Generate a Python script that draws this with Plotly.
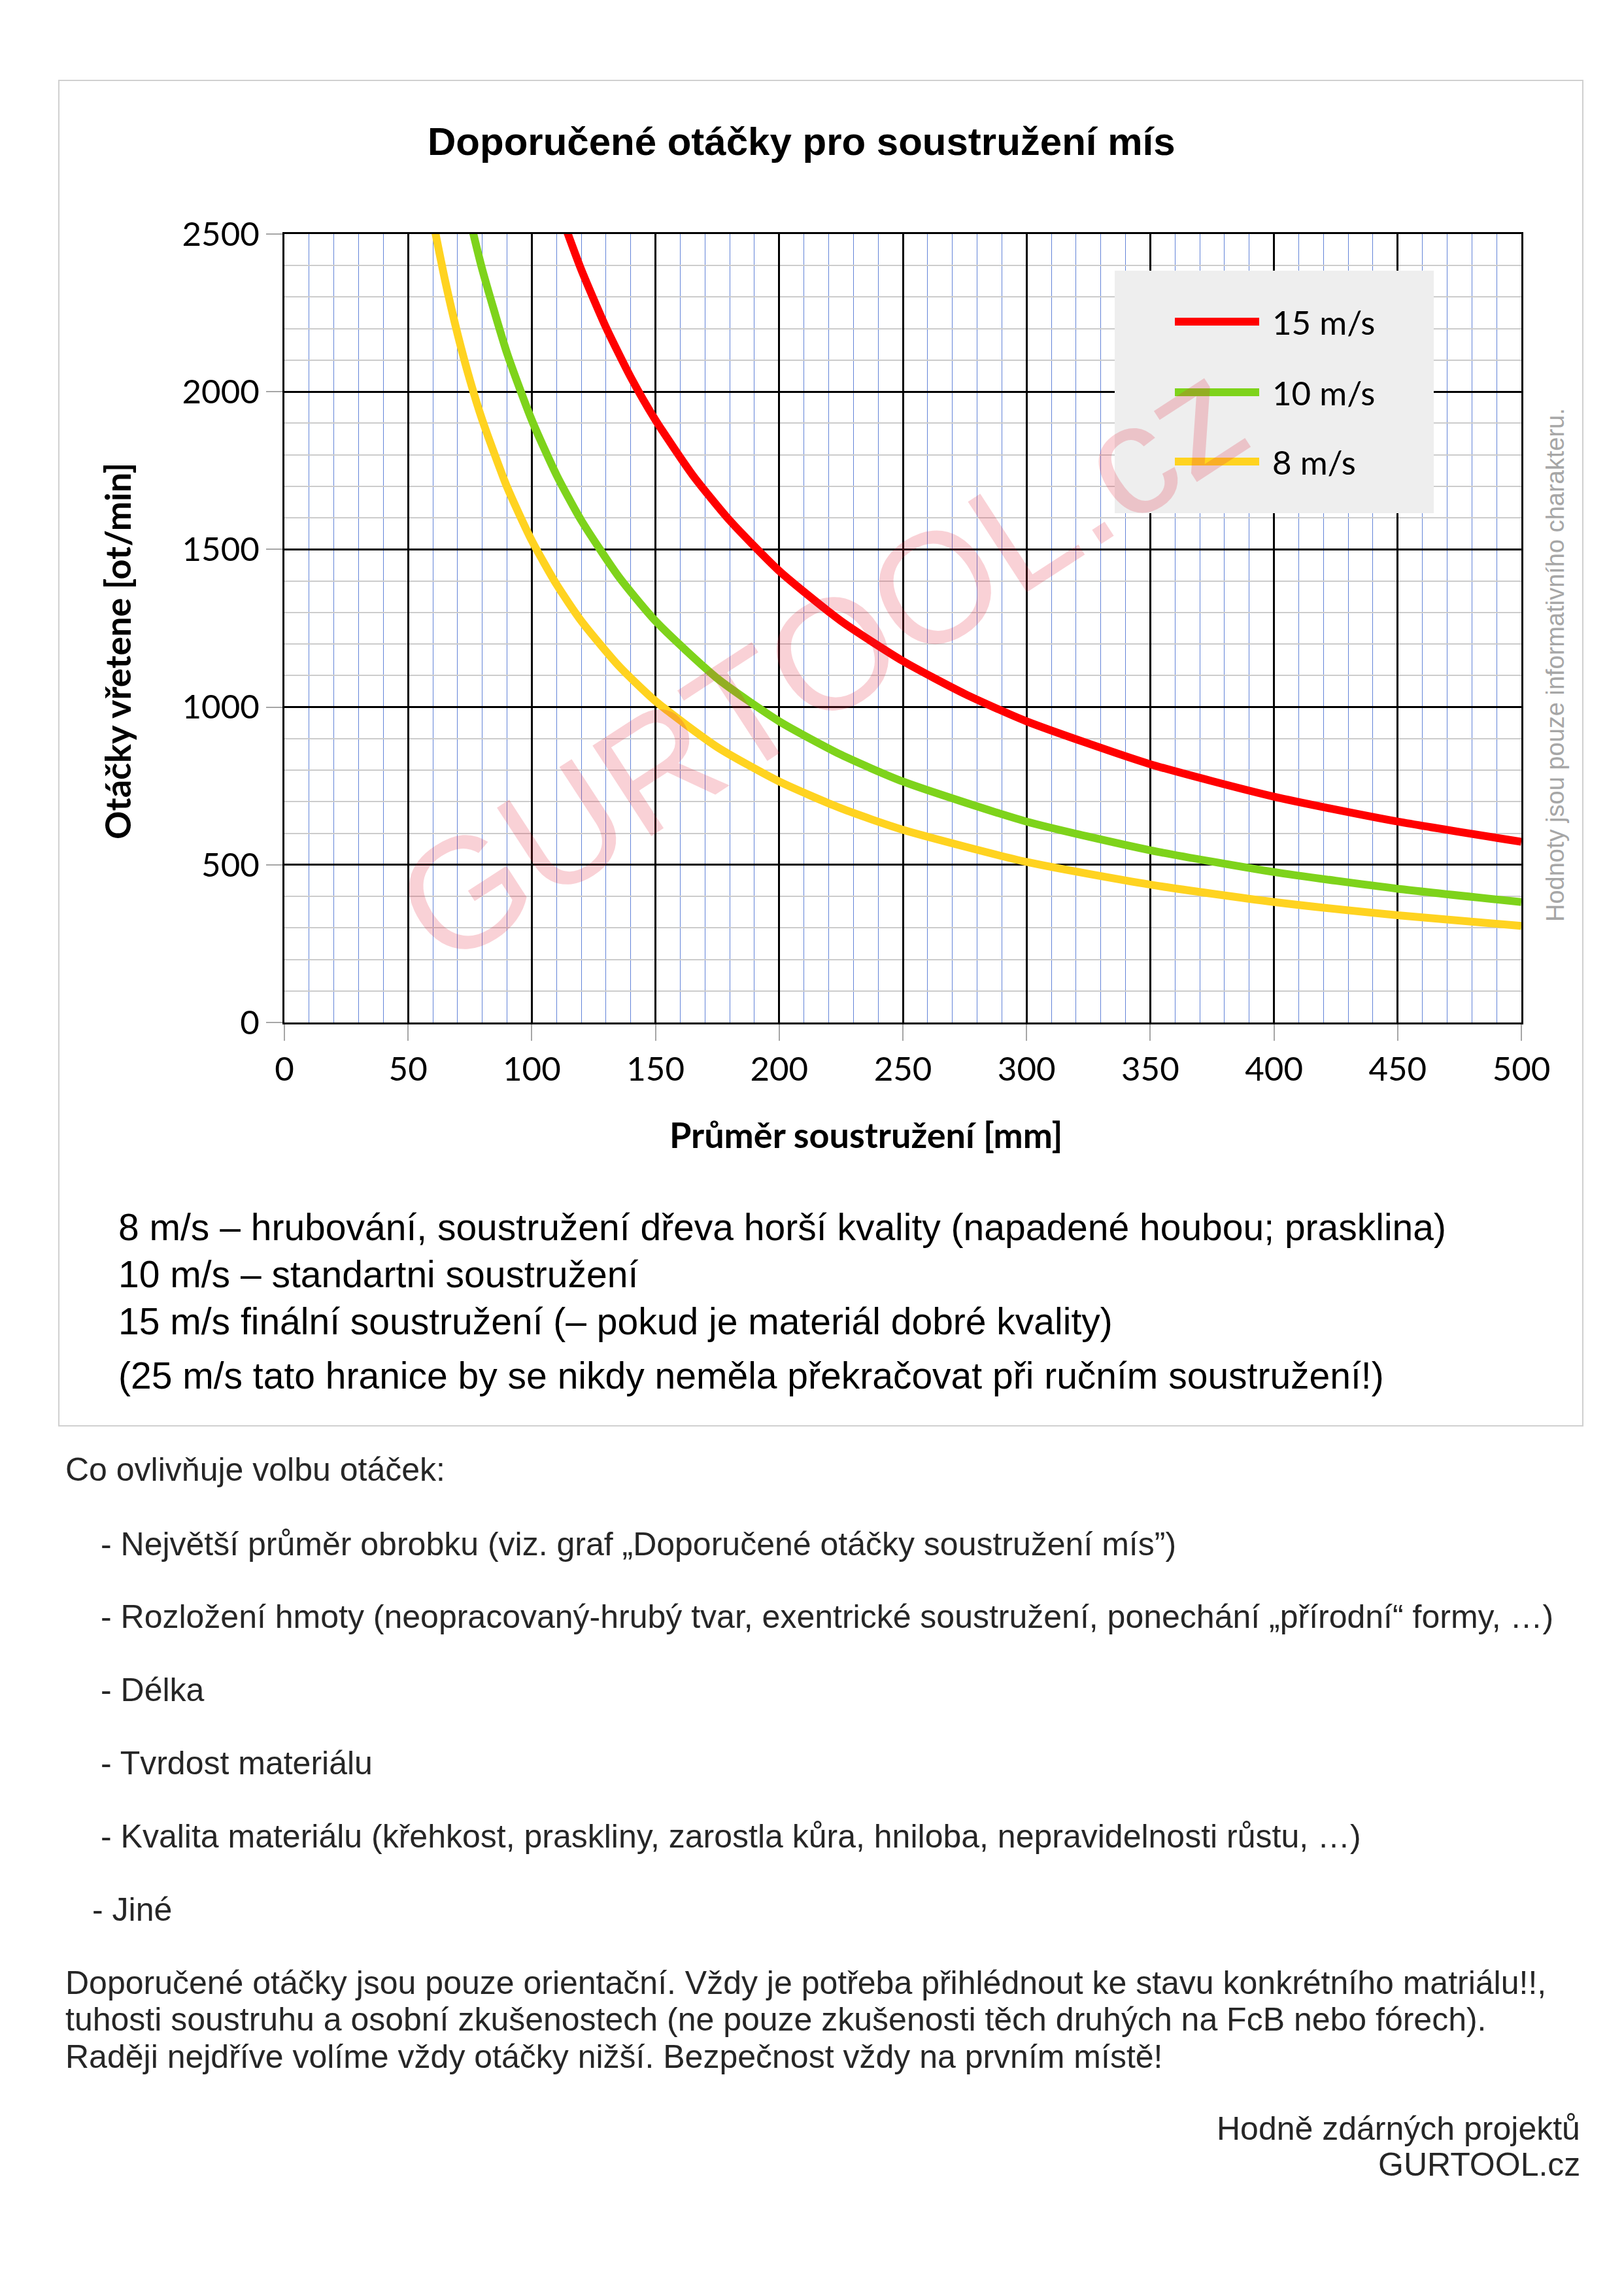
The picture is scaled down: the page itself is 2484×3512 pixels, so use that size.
import plotly.graph_objects as go

# ---------------- data ----------------
series_names = ["15 m/s", "10 m/s", "8 m/s"]
series_colors = ["#FF0000", "#7ED31B", "#FFD320"]

d_15 = [114, 120, 130, 140, 150, 165, 180, 200, 225, 250, 275, 300, 350, 400, 450, 500]
n_15 = [2513, 2387, 2204, 2046, 1910, 1736, 1592, 1432, 1273, 1146, 1042, 955, 819, 716, 637, 573]

d_10 = [76, 80, 90, 100, 110, 120, 135, 150, 175, 200, 225, 250, 300, 350, 400, 450, 500]
n_10 = [2513, 2387, 2122, 1910, 1736, 1592, 1415, 1273, 1091, 955, 849, 764, 637, 546, 477, 424, 382]

d_8 = [61, 65, 70, 75, 80, 90, 100, 110, 120, 135, 150, 175, 200, 225, 250, 300, 350, 400, 450, 500]
n_8 = [2505, 2351, 2183, 2037, 1910, 1698, 1528, 1389, 1273, 1132, 1019, 873, 764, 679, 611, 509, 437, 382, 340, 306]

x_ticks = [0, 50, 100, 150, 200, 250, 300, 350, 400, 450, 500]
y_ticks = [0, 500, 1000, 1500, 2000, 2500]

title_text = "Doporučené otáčky pro soustružení mís"
x_title = "Průměr soustružení [mm]"
y_title = "Otáčky vřetene [ot/min]"
side_note = "Hodnoty jsou pouze informativního charakteru."
watermark = "GURTOOL.cz"

box_lines = [
    "8 m/s – hrubování, soustružení dřeva horší kvality (napadené houbou; prasklina)",
    "10 m/s – standartni soustružení",
    "15 m/s finální soustružení (– pokud je materiál dobré kvality)",
    "(25 m/s tato hranice by se nikdy neměla překračovat při ručním soustružení!)",
]
heading = "Co ovlivňuje volbu otáček:"
bullets = [
    "- Největší průměr obrobku (viz. graf „Doporučené otáčky soustružení mís”)",
    "- Rozložení hmoty (neopracovaný-hrubý tvar, exentrické soustružení, ponechání „přírodní“ formy, …)",
    "- Délka",
    "- Tvrdost materiálu",
    "- Kvalita materiálu (křehkost, praskliny, zarostla kůra, hniloba, nepravidelnosti růstu, …)",
]
last_bullet = "- Jiné"
paragraph = [
    "Doporučené otáčky jsou pouze orientační. Vždy je potřeba přihlédnout ke stavu konkrétního matriálu!!,",
    "tuhosti soustruhu a osobní zkušenostech (ne pouze zkušenosti těch druhých na FcB nebo fórech).",
    "Raději nejdříve volíme vždy otáčky nižší. Bezpečnost vždy na prvním místě!",
]
signature = ["Hodně zdárných projektů", "GURTOOL.cz"]

# ---------------- layout geometry (page pixels) ----------------
W, H = 2484, 3512
OFF = 8  # default body margin of the html page
L, R, T, B = 435, 2327, 358, 1564


def px(x):
    return (x - L) / (R - L)


def py(y):
    return (B - y) / (B - T)


ARIAL = "Liberation Sans, Arial, sans-serif"
CALIBRI = "Lato, Carlito, Calibri, sans-serif"
TEXT_COL = "#262626"

fig = go.Figure()
for name, col, xs, ys in zip(series_names, series_colors, [d_15, d_10, d_8], [n_15, n_10, n_8]):
    fig.add_trace(go.Scatter(
        x=xs, y=ys, name=name, mode="lines",
        line=dict(color=col, width=12, shape="spline", smoothing=0.6),
        showlegend=False,
    ))

fig.update_layout(
    width=W - 2 * OFF, height=H - 2 * OFF,
    margin=dict(l=L - OFF, r=W - R - OFF, t=T - OFF, b=H - B - OFF, pad=0),
    paper_bgcolor="white", plot_bgcolor="white",
    showlegend=False,
)

fig.update_xaxes(
    range=[0, 500], tickvals=x_ticks, ticktext=[str(v) for v in x_ticks],
    showgrid=True, gridcolor="black", gridwidth=3,
    minor=dict(dtick=10, showgrid=True, gridcolor="#6384D8", gridwidth=1),
    showline=True, linecolor="black", linewidth=3, mirror=True,
    ticks="outside", ticklen=25, tickwidth=2, tickcolor="#A6A6A6",
    tickfont=dict(family=CALIBRI, size=51, color="black"),
    zeroline=False, fixedrange=True,
)
fig.update_yaxes(
    range=[0, 2500], tickvals=y_ticks, ticktext=[str(v) for v in y_ticks],
    showgrid=True, gridcolor="black", gridwidth=3,
    minor=dict(dtick=100, showgrid=True, gridcolor="#CCCCCC", gridwidth=2),
    showline=True, linecolor="black", linewidth=3, mirror=True,
    ticks="outside", ticklen=25, tickwidth=2, tickcolor="#A6A6A6",
    tickfont=dict(family=CALIBRI, size=51, color="black"),
    zeroline=False, fixedrange=True,
)

shapes = []
# outer chart frame
shapes.append(dict(type="rect", xref="paper", yref="paper",
                   x0=px(90), x1=px(2421), y0=py(123), y1=py(2181),
                   line=dict(color="#D0D0D0", width=2), fillcolor="rgba(0,0,0,0)", layer="below"))
# legend box
shapes.append(dict(type="rect", xref="paper", yref="paper",
                   x0=px(1705), x1=px(2193), y0=py(414), y1=py(785),
                   line=dict(width=0), fillcolor="#EEEEEE", layer="above"))
leg_y = [492, 600, 706]
for col, yy in zip(series_colors, leg_y):
    shapes.append(dict(type="line", xref="paper", yref="paper",
                       x0=px(1797), x1=px(1926), y0=py(yy), y1=py(yy),
                       line=dict(color=col, width=12), layer="above"))

ann = []
for name, yy in zip(series_names, leg_y):
    ann.append(dict(text=name, x=px(1944), y=py(yy), xanchor="left", yanchor="middle",
                    font=dict(family=CALIBRI, size=51, color="black")))

# title
ann.append(dict(text="<b>" + title_text + "</b>", x=px(1226), y=py(217), xanchor="center", yanchor="middle",
                font=dict(family=ARIAL, size=60, color="black")))
# axis titles
ann.append(dict(text="<b>" + x_title + "</b>", x=px(1324), y=py(1735), xanchor="center", yanchor="middle",
                font=dict(family=CALIBRI, size=54, color="black")))
ann.append(dict(text="<b>" + y_title + "</b>", x=px(180), y=py(996), xanchor="center", yanchor="middle",
                textangle=-90, font=dict(family=CALIBRI, size=54, color="black")))
# side note
ann.append(dict(text=side_note, x=px(2379), y=py(1017), xanchor="center", yanchor="middle",
                textangle=-90, font=dict(family=ARIAL, size=38, color="#A6A6A6")))
# watermark
ann.append(dict(text=watermark, x=px(1255), y=py(1012), xanchor="center", yanchor="middle",
                textangle=-33, font=dict(family=ARIAL, size=240, color="rgba(225,40,60,0.21)")))

# explanatory lines inside chart frame
for txt, yy in zip(box_lines, [1877, 1949, 2021, 2104]):
    ann.append(dict(text=txt, x=px(179), y=py(yy), xanchor="left", yanchor="middle",
                    font=dict(family=ARIAL, size=57, color="black")))

# text below
ann.append(dict(text=heading, x=px(98), y=py(2248), xanchor="left", yanchor="middle",
                font=dict(family=ARIAL, size=50, color=TEXT_COL)))
for txt, yy in zip(bullets, [2362, 2473, 2585, 2697, 2809]):
    ann.append(dict(text=txt, x=px(152), y=py(yy), xanchor="left", yanchor="middle",
                    font=dict(family=ARIAL, size=50, color=TEXT_COL)))
ann.append(dict(text=last_bullet, x=px(139), y=py(2921), xanchor="left", yanchor="middle",
                font=dict(family=ARIAL, size=50, color=TEXT_COL)))
for txt, yy in zip(paragraph, [3033, 3089, 3146]):
    ann.append(dict(text=txt, x=px(98), y=py(yy), xanchor="left", yanchor="middle",
                    font=dict(family=ARIAL, size=50, color=TEXT_COL)))
for txt, yy in zip(signature, [3256, 3311]):
    ann.append(dict(text=txt, x=px(2419), y=py(yy), xanchor="right", yanchor="middle",
                    font=dict(family=ARIAL, size=50, color=TEXT_COL)))

for a in ann:
    a.update(xref="paper", yref="paper", showarrow=False)

fig.update_layout(shapes=shapes, annotations=ann)
fig.write_html("out.html")
